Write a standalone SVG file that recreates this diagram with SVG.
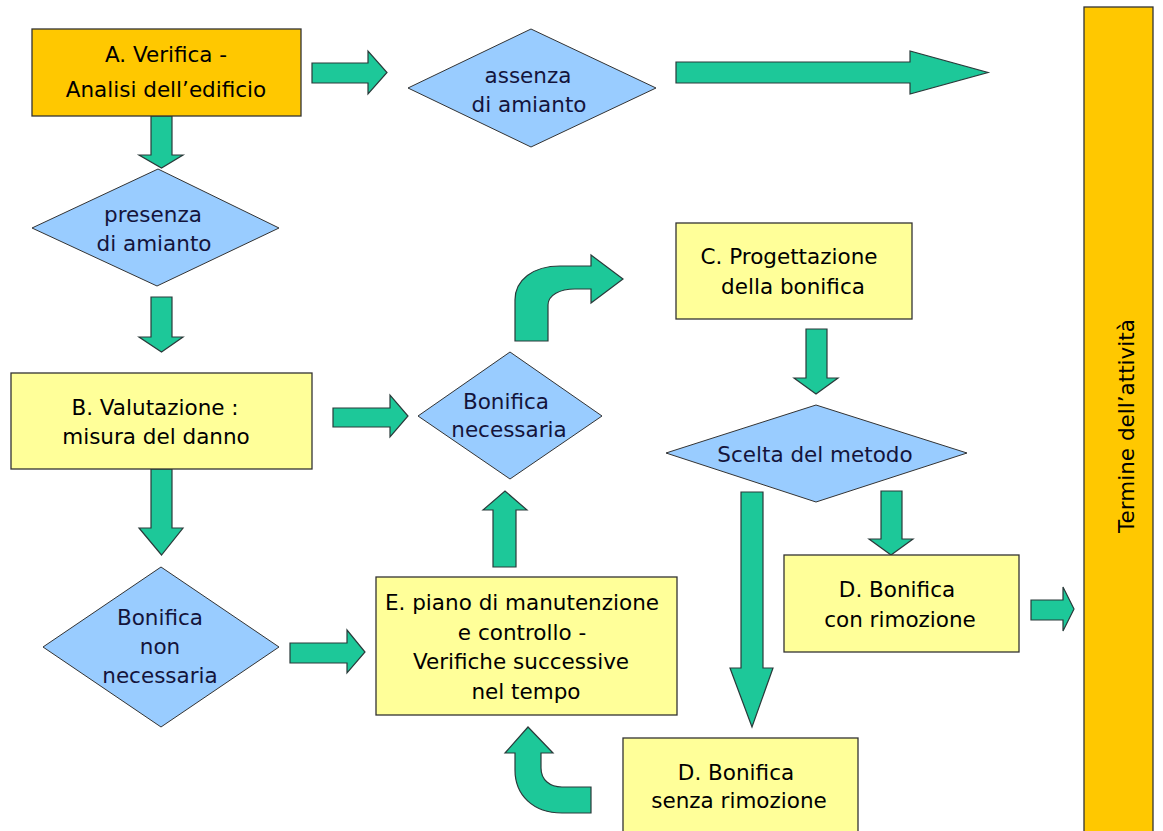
<svg xmlns="http://www.w3.org/2000/svg" width="1163" height="831" viewBox="0 0 1163 831">
<style>
  .box { fill: #FFFF99; stroke: #333; stroke-width: 1.3; }
  .boxo { fill: #FFC800; stroke: #333; stroke-width: 1.3; }
  .dia { fill: #99CCFF; stroke: #333; stroke-width: 1; }
  .arr { fill: #1DC899; stroke: #2a3a3a; stroke-width: 1.2; stroke-linejoin: miter; }
  text { font-family: "DejaVu Sans", Verdana, sans-serif; font-size: 21.5px; text-anchor: middle; fill: #000; }
  .dt { fill: #14143c; }
</style>
<rect width="1163" height="831" fill="#fff"/>

<g id="connectors">
  <polygon class="arr" points="312,63 368,63 368,51 387,72.5 368,94 368,83 312,83"/>
  <polygon class="arr" points="676,62 910,62 910,51 988,72.5 910,94 910,83 676,83"/>
  <polygon class="arr" points="151,116 172,116 172,155 183,155 161.5,168 139,155 151,155"/>
  <polygon class="arr" points="151,297 172,297 172,337 183,337 161.5,352 139,337 151,337"/>
  <polygon class="arr" points="333,408 390,408 390,395 408,416 390,437 390,427 333,427"/>
  <polygon class="arr" points="151,469 172,469 172,528 183,528 161.5,555 139,528 151,528"/>
  <polygon class="arr" points="290,643 347,643 347,630 365,652 347,673 347,663 290,663"/>
  <polygon class="arr" points="493,567 493,510 483,510 505,491 527,510 516,510 516,567"/>
  <path class="arr" d="M515,341 L515,300 C515,280 533,266 560,266 L591,266 L591,255 L623,279 L591,303 L591,289 L575,289 C560,289 548,295 548,305 L548,341 Z"/>
  <polygon class="arr" points="806,329 827,329 827,378 838,378 816,394 794,378 806,378"/>
  <polygon class="arr" points="741,492 763,492 763,668 773,668 752,727 730,668 741,668"/>
  <polygon class="arr" points="881,491 902,491 902,539 913,539 891,555 869,539 881,539"/>
  <polygon class="arr" points="1031,600 1063,600 1063,587 1074,609 1063,631 1063,620 1031,620"/>
  <path class="arr" d="M591,813 L562,813 C533,813 515,795 515,770 L515,753 L505,753 L528,727 L553,753 L541,753 L541,768 C541,780 550,787 562,787 L591,787 Z"/>
</g>

<g id="node-A">
  <rect class="boxo" x="32" y="29" width="269" height="87"/>
  <text x="166" y="62">A. Verifica -</text>
  <text x="166" y="97">Analisi dell’edificio</text>
</g>

<g id="node-assenza">
  <polygon class="dia" points="531,29 656,88 531,147 408,88"/>
  <text class="dt" x="528" y="83">assenza</text>
  <text class="dt" x="529" y="112">di amianto</text>
</g>

<g id="node-presenza">
  <polygon class="dia" points="158,169 279,228 157,286 32,228"/>
  <text class="dt" x="153" y="222">presenza</text>
  <text class="dt" x="154" y="251">di amianto</text>
</g>

<g id="node-B">
  <rect class="box" x="11" y="373" width="301" height="96"/>
  <text x="155" y="415">B. Valutazione :</text>
  <text x="156" y="444">misura del danno</text>
</g>

<g id="node-bonifica-necessaria">
  <polygon class="dia" points="510,352 602,416 510,479 418,416"/>
  <text class="dt" x="506" y="409">Bonifica</text>
  <text class="dt" x="509" y="437">necessaria</text>
</g>

<g id="node-bonifica-non-necessaria">
  <polygon class="dia" points="161,567 279,647 161,727 43,647"/>
  <text class="dt" x="160" y="625">Bonifica</text>
  <text class="dt" x="160" y="654">non</text>
  <text class="dt" x="160" y="683">necessaria</text>
</g>

<g id="node-C">
  <rect class="box" x="676" y="223" width="236" height="96"/>
  <text x="789" y="264">C. Progettazione</text>
  <text x="793" y="294">della bonifica</text>
</g>

<g id="node-scelta">
  <polygon class="dia" points="816,405 967,453 816,502 666,453"/>
  <text class="dt" x="815" y="462">Scelta del metodo</text>
</g>

<g id="node-E">
  <rect class="box" x="376" y="577" width="301" height="138"/>
  <text x="522" y="610">E. piano di manutenzione</text>
  <text x="522" y="640">e controllo -</text>
  <text x="521" y="669">Verifiche successive</text>
  <text x="526" y="699">nel tempo</text>
</g>

<g id="node-D-con">
  <rect class="box" x="784" y="555" width="235" height="97"/>
  <text x="897" y="597">D. Bonifica</text>
  <text x="900" y="627">con rimozione</text>
</g>

<g id="node-D-senza">
  <rect class="box" x="623" y="738" width="235" height="110"/>
  <text x="736" y="780">D. Bonifica</text>
  <text x="739" y="808">senza rimozione</text>
</g>

<g id="node-termine">
  <rect class="boxo" x="1084" y="7" width="69" height="840"/>
  <text transform="translate(1134,426) rotate(-90)">Termine dell’attività</text>
</g>
</svg>
